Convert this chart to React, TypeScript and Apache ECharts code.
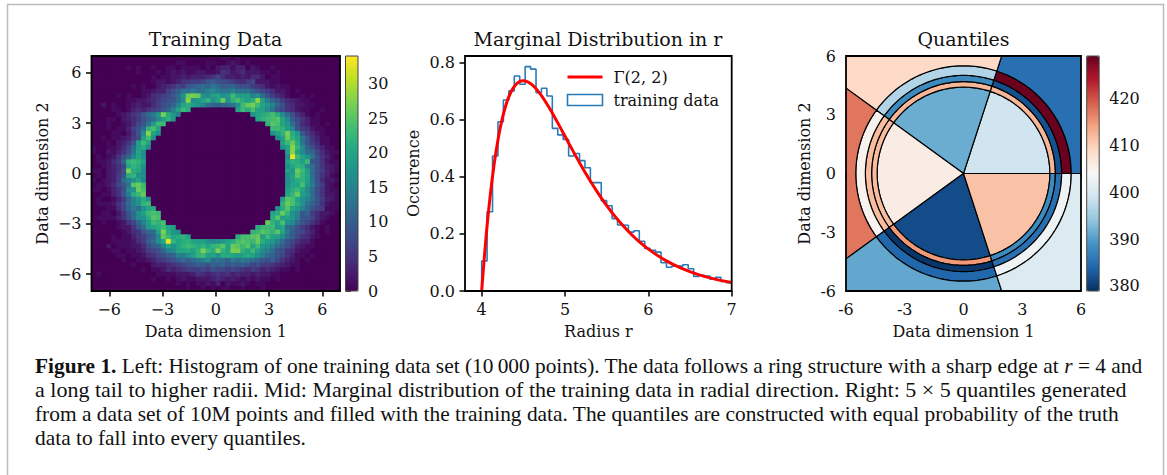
import React, { useEffect, useRef } from "react";
import * as echarts from "echarts";

const SERIF = "DejaVu Serif";
const CAPTION_FONT = "Liberation Serif";

// Left panel: 50 x 50 histogram, top row first, one base-36 digit per cell.
const heatRows = [
  "0000000000 0000000000 0000001101 0000000000 0000000000",
  "0000000000 0000000110 0001100121 0100000000 0000000000",
  "0000000101 0010011011 1101023313 3021001000 0000000000",
  "0000000001 0001012121 1221125423 4222110100 0000000000",
  "0000000000 0010112232 3334574332 3244201100 0000000000",
  "0000000000 0012212355 6679a88765 4672221100 0000000000",
  "0000000010 1002345769 abcbdcaab9 8865421211 0000000000",
  "0000000000 1123368adc ecdfgeddfd ddb9764221 0100000000",
  "0000010100 1245679chq rqhgjkhinj jjfhc96431 0010100000",
  "0000000112 2346789cgs hijmhkqhmo ljlsjeb964 3211000000",
  "0020100123 224689bfkl jhgcbabcdh nqrnkifb85 4221100000",
  "0000110134 35679bfjnl 000000000k nlokjgd975 4211001000",
  "0000012356 9ceirlif00 0000000000 00iklmolgc 8531010000",
  "0001102346 8acgjmi000 0000000000 000kmnopkg a753110000",
  "0001001247 9dinn00000 0000000000 00000mpoki c843110100",
  "0001011369 cmok000000 0000000000 000000nnmj g965211000",
  "0000110259 gskh000000 0000000000 000000hkmr li96421000",
  "0010112368 joh0000000 0000000000 0000000gjq mkd9531100",
  "000102359j nk00000000 0000000000 00000000kn qld9641100",
  "10011247cj lg00000000 0000000000 00000000hk smgb853110",
  "10021358dk g000000000 0000000000 000000000j sjgcb74211",
  "0101258bgk h000000000 0000000000 000000000g xnkhd85310",
  "011246bmnm k000000000 0000000000 000000000j mljn985211",
  "0012357kml h000000000 0000000000 000000000h kmlfc85321",
  "1102358rlk g000000000 0000000000 000000000j iqnjc86321",
  "0102369lmh h000000000 0000000000 000000000h kpmkc85310",
  "101236cfhk f000000000 0000000000 000000000g jlmjd84221",
  "0112479dpq n000000000 0000000000 000000000h kkoie96210",
  "1101358ghq o000000000 0000000000 000000000j lnkgc85211",
  "0011359eln q000000000 0000000000 000000000k mqjhc85221",
  "0100136bfi lh00000000 0000000000 00000000jp okhfc96321",
  "0111257cfh mn00000000 0000000000 00000000mq olhdb85211",
  "0001147bec hkl0000000 0000000000 0000000hlp kifc976111",
  "00110259ch jnon000000 0000000000 000000klqm hf9b642210",
  "01111358cg hlpo000000 0000000000 000000lpjk if99742100",
  "001001257b fjnmo00000 0000000000 00000qmkoh gc97531000",
  "0000012259 ciklnkj000 0000000000 000lnnnikc b864210100",
  "0000001245 9bcjrlih00 0000000000 00mnpompke a875310100",
  "0000101135 69bgqnklmk 000000000l oopqjnkjgc a754210000",
  "0000111124 6achkxmklm kjjhghiklo ponqljifc9 7533100000",
  "0002011122 47abfkhkmn mlmkmnpkqp npknihfca8 6321100000",
  "0000110112 3678bfgkkl jmrnlrmkrr mknjgfc985 4211000000",
  "0000011011 24578abfeh jmnjkhllkj klkhfcb975 3110100000",
  "0000001001 1235678aca cdehcdcbec edcb98a753 2101000000",
  "0000000010 0023345678 9aa8bab9a9 a978665432 1100000000",
  "0000000000 1011243456 6676877676 5465343211 0100000000",
  "0100000000 0001111222 3543454534 3323221100 0000000000",
  "0000000000 0010010121 1222343232 1212110100 0000000000",
  "0000000000 0000000101 0112130211 2101100000 0000000000",
  "0000000000 0000000001 0010101100 1000100000 0000000000",
];
const dimTicks = [-6, -3, 0, 3, 6];
const countTicks = [0, 5, 10, 15, 20, 25, 30];

// Middle panel
const histBinCount = 46;
const histValues = [
  0.105, 0.277, 0.472, 0.592, 0.668, 0.7, 0.752, 0.723, 0.785, 0.776, 0.694, 0.709,
  0.682, 0.569, 0.546, 0.53, 0.472, 0.481, 0.456, 0.431, 0.379, 0.379, 0.316, 0.298,
  0.253, 0.231, 0.23, 0.206, 0.211, 0.174, 0.149, 0.142, 0.136, 0.099, 0.083, 0.087,
  0.087, 0.092, 0.078, 0.051, 0.055, 0.052, 0.041, 0.048, 0.033, 0.029,
];
const gammaRadius = [
  4, 4.05, 4.1, 4.15, 4.2, 4.25, 4.3, 4.35, 4.4, 4.45, 4.5, 4.6, 4.7, 4.8, 4.9, 5, 5.1, 5.2,
  5.3, 5.4, 5.5, 5.6, 5.7, 5.8, 5.9, 6, 6.2, 6.4, 6.6, 6.8, 7,
];
const gammaDensity = [
  0, 0.181, 0.3275, 0.4445, 0.536, 0.6065, 0.6586, 0.6952, 0.7189, 0.7318, 0.7358, 0.7229,
  0.6905, 0.6461, 0.5951, 0.5413, 0.4875, 0.4355, 0.3862, 0.3405, 0.2987, 0.2609, 0.227,
  0.1967, 0.17, 0.1465, 0.108, 0.079, 0.0574, 0.0414, 0.0297,
];
const radiusTicks = [4, 5, 6, 7];
const occurenceTicks = [0, 0.2, 0.4, 0.6, 0.8];

// Right panel
const ringRadii = [0, 4.41, 4.69, 5.01, 5.5, 9];
const sectorAngles = [0, 72, 144, 216, 288, 360];
const quantileCounts = [
  [399, 412.5, 382, 429, 385],
  [391.5, 412.5, 388, 396.5, 409],
  [406, 412, 412, 405, 417.5],
  [381.5, 415, 379.5, 384, 391],
  [411.5, 388, 385, 403, 400.5],
];
const quantileTicks = [380, 390, 400, 410, 420];

const viridis = ["#440154", "#482475", "#414487", "#355f8d", "#2a788e", "#21918c", "#22a884", "#44bf70", "#7ad151", "#bddf26", "#fde725"];
const rdbu = ["#053061", "#2166ac", "#4393c3", "#92c5de", "#d1e5f0", "#f7f7f7", "#fddbc7", "#f4a582", "#d6604d", "#b2182b", "#67001f"];

const captionLines = [
  "{b|Figure 1.} Left: Histogram of one training data set (10\u2009000 points). The data follows a ring structure with a sharp edge at {i|r} = 4 and",
  "a long tail to higher radii. Mid: Marginal distribution of the training data in radial direction. Right: 5 \u00d7 5 quantiles generated",
  "from a data set of 10M points and filled with the training data. The quantiles are constructed with equal probability of the truth",
  "data to fall into every quantiles.",
];
const captionSizes = [21.35, 22, 21.4, 21.4];

const TICK_SIZE = 16;
const NAME_SIZE = 16;
const TITLE_SIZE = 19;
const INK = "#111";

const minus = (v: number) => (v < 0 ? "\u2212" + Math.abs(v) : String(v));

const grid = (left: number, width: number) => ({
  left, top: 56, width, height: 235, show: true, z: 10,
  backgroundColor: "transparent", borderColor: "#000", borderWidth: 1.8,
});
const colorGrid = (left: number) => ({
  left, top: 56, width: 12.5, height: 235, show: true, z: 10,
  backgroundColor: "transparent", borderColor: "#444", borderWidth: 1,
});

function valueAxis(opts: any) {
  const { gridIndex, min, max, ticks, format, name, nameGap, position } = opts;
  return {
    type: "value", gridIndex, min, max, position,
    name, nameLocation: "middle", nameGap,
    nameTextStyle: { fontFamily: SERIF, fontSize: NAME_SIZE, color: INK },
    axisLine: { show: false },
    splitLine: { show: false },
    axisTick: { show: true, length: 5.5, customValues: ticks, lineStyle: { color: "#000", width: 1.5 } },
    axisLabel: {
      show: true, customValues: ticks, formatter: format, margin: 10,
      fontFamily: SERIF, fontSize: TICK_SIZE, color: INK,
    },
  };
}
const hiddenAxis = (gridIndex: number) => ({ type: "value", gridIndex, min: 0, max: 1, show: false });

function renderQuantile(_: any, api: any) {
  const ring = api.value(0);
  const sector = api.value(1);
  const r0 = ringRadii[ring];
  const r1 = ringRadii[ring + 1];
  const a0 = sectorAngles[sector];
  const a1 = sectorAngles[sector + 1];
  const pts: number[][] = [];
  for (let a = a0; a <= a1; a += 1.5) {
    const t = (a * Math.PI) / 180;
    pts.push(api.coord([r1 * Math.cos(t), r1 * Math.sin(t)]));
  }
  for (let a = a1; a >= a0; a -= 1.5) {
    const t = (a * Math.PI) / 180;
    pts.push(api.coord([r0 * Math.cos(t), r0 * Math.sin(t)]));
  }
  return {
    type: "polygon",
    shape: { points: pts },
    style: { fill: api.visual("color"), stroke: "#000", lineWidth: 1.2 },
  };
}

function buildOption() {
  const cells: number[][] = [];
  heatRows.forEach((row, j) => {
    row.replace(/ /g, "").split("").forEach((c, i) => cells.push([i, 49 - j, parseInt(c, 36)]));
  });
  const cellIndex = Array.from({ length: 50 }, (_, i) => i);
  const binWidth = 3 / histBinCount;
  const histPoints: number[][] = [[4, 0]];
  histValues.forEach((v, i) => histPoints.push([4 + i * binWidth, v]));
  histPoints.push([7, histValues[histValues.length - 1]]);
  const quantCells: number[][] = [];
  quantileCounts.forEach((rings, s) => rings.forEach((v, r) => quantCells.push([r, s, v])));

  return {
    animation: false,
    backgroundColor: "#fff",
    title: [
      ["Training Data", 215.5],
      ["Marginal Distribution in r", 598],
      ["Quantiles", 963.5],
    ].map(([text, left]) => ({
      text, left, top: 29.5, textAlign: "center", padding: 0,
      textStyle: { fontFamily: SERIF, fontSize: TITLE_SIZE, fontWeight: "normal", color: INK },
    })),
    grid: [
      grid(91.5, 248.5),
      colorGrid(345.5),
      grid(465, 266.7),
      grid(846, 235),
      colorGrid(1086.7),
      { left: 91.5, top: 56, width: 248.5, height: 235, show: true, z: 0, backgroundColor: "#440154", borderWidth: 0 },
    ],
    xAxis: [
      { type: "category", gridIndex: 0, data: cellIndex, show: false },
      valueAxis({ gridIndex: 0, min: -7, max: 7, ticks: dimTicks, format: minus, name: "Data dimension 1", nameGap: 32, position: "bottom" }),
      hiddenAxis(1),
      valueAxis({ gridIndex: 2, min: 3.8, max: 7, ticks: radiusTicks, format: (v: number) => String(v), name: "Radius r", nameGap: 32, position: "bottom" }),
      valueAxis({ gridIndex: 3, min: -6, max: 6, ticks: dimTicks, format: (v: number) => String(v), name: "Data dimension 1", nameGap: 32, position: "bottom" }),
      hiddenAxis(4),
      hiddenAxis(5),
    ],
    yAxis: [
      { type: "category", gridIndex: 0, data: cellIndex, show: false },
      valueAxis({ gridIndex: 0, min: -7, max: 7, ticks: dimTicks, format: minus, name: "Data dimension 2", nameGap: 41.5, position: "left" }),
      valueAxis({ gridIndex: 1, min: 0, max: 34, ticks: countTicks, format: (v: number) => String(v), position: "right" }),
      valueAxis({ gridIndex: 2, min: 0, max: 0.822, ticks: occurenceTicks, format: (v: number) => v.toFixed(1), name: "Occurence", nameGap: 43.7, position: "left" }),
      valueAxis({ gridIndex: 3, min: -6, max: 6, ticks: dimTicks, format: (v: number) => String(v), name: "Data dimension 2", nameGap: 34, position: "left" }),
      valueAxis({ gridIndex: 4, min: 378.9, max: 429.2, ticks: quantileTicks, format: (v: number) => String(v), position: "right" }),
      hiddenAxis(5),
    ],
    visualMap: [
      {
        type: "continuous", seriesIndex: 0, dimension: 2, min: 0, max: 34, inRange: { color: viridis },
        left: 345.5, top: 56, itemWidth: 12.5, itemHeight: 235, padding: 0, text: null, showLabel: false, calculable: false, hoverLink: false,
      },
      {
        type: "continuous", seriesIndex: 3, dimension: 2, min: 378.9, max: 429.2, inRange: { color: rdbu },
        left: 1086.7, top: 56, itemWidth: 12.5, itemHeight: 235, padding: 0, text: null, showLabel: false, calculable: false, hoverLink: false,
      },
    ],
    legend: {
      left: 566, top: 69, orient: "vertical", itemWidth: 35, itemHeight: 11, itemGap: 7, padding: 0,
      textStyle: { fontFamily: SERIF, fontSize: 16, color: INK, padding: [0, 0, 0, 6] },
      data: [
        { name: "\u0393(2, 2)", itemStyle: { opacity: 0 }, lineStyle: { color: "#ff0000", width: 3 } },
        { name: "training data", icon: "rect", itemStyle: { color: "#fff", borderColor: "#2a7ab8", borderWidth: 1.6, opacity: 1 } },
      ],
    },
    series: [
      { type: "heatmap", xAxisIndex: 0, yAxisIndex: 0, data: cells, progressive: 0, emphasis: { disabled: true } },
      {
        name: "training data", type: "line", xAxisIndex: 3, yAxisIndex: 3, data: histPoints, step: "end", symbol: "none",
        lineStyle: { color: "#2a7ab8", width: 1.6 }, itemStyle: { color: "#2a7ab8" }, z: 2,
      },
      {
        name: "\u0393(2, 2)", type: "line", xAxisIndex: 3, yAxisIndex: 3, smooth: 0.3, symbol: "none",
        data: gammaRadius.map((r, i) => [r, gammaDensity[i]]),
        lineStyle: { color: "#ff0000", width: 3 }, itemStyle: { color: "#ff0000" }, z: 3,
      },
      {
        type: "custom", xAxisIndex: 4, yAxisIndex: 4, data: quantCells, renderItem: renderQuantile, clip: true,
        encode: { x: 0, y: 1 },
      },
    ],
    graphic: [
      {
        type: "polyline", silent: true, z: 20,
        shape: { points: [[7.5, 475], [7.5, 4.5], [1163.5, 4.5], [1163.5, 475]] },
        style: { stroke: "#bbb", lineWidth: 1.5, fill: "none" },
      },
      ...captionLines.map((text, i) => ({
        type: "text", silent: true, z: 20, x: 35, y: 365.5 + i * 24.2,
        style: {
          text, fill: "#111", fontFamily: CAPTION_FONT, fontSize: captionSizes[i], verticalAlign: "middle", align: "left",
          rich: {
            b: { fontFamily: CAPTION_FONT, fontSize: captionSizes[i], fontWeight: "bold", fill: "#111" },
            i: { fontFamily: CAPTION_FONT, fontSize: captionSizes[i], fontStyle: "italic", fill: "#111" },
          },
        },
      })),
    ],
  };
}

export default function App() {
  const ref = useRef<HTMLDivElement>(null);
  useEffect(() => {
    const chart = echarts.init(ref.current!, undefined, { renderer: "svg" });
    chart.setOption(buildOption() as any);
    return () => chart.dispose();
  }, []);
  return <div ref={ref} style={{ position: "fixed", left: 0, top: 0, width: 1167, height: 475 }} />;
}
